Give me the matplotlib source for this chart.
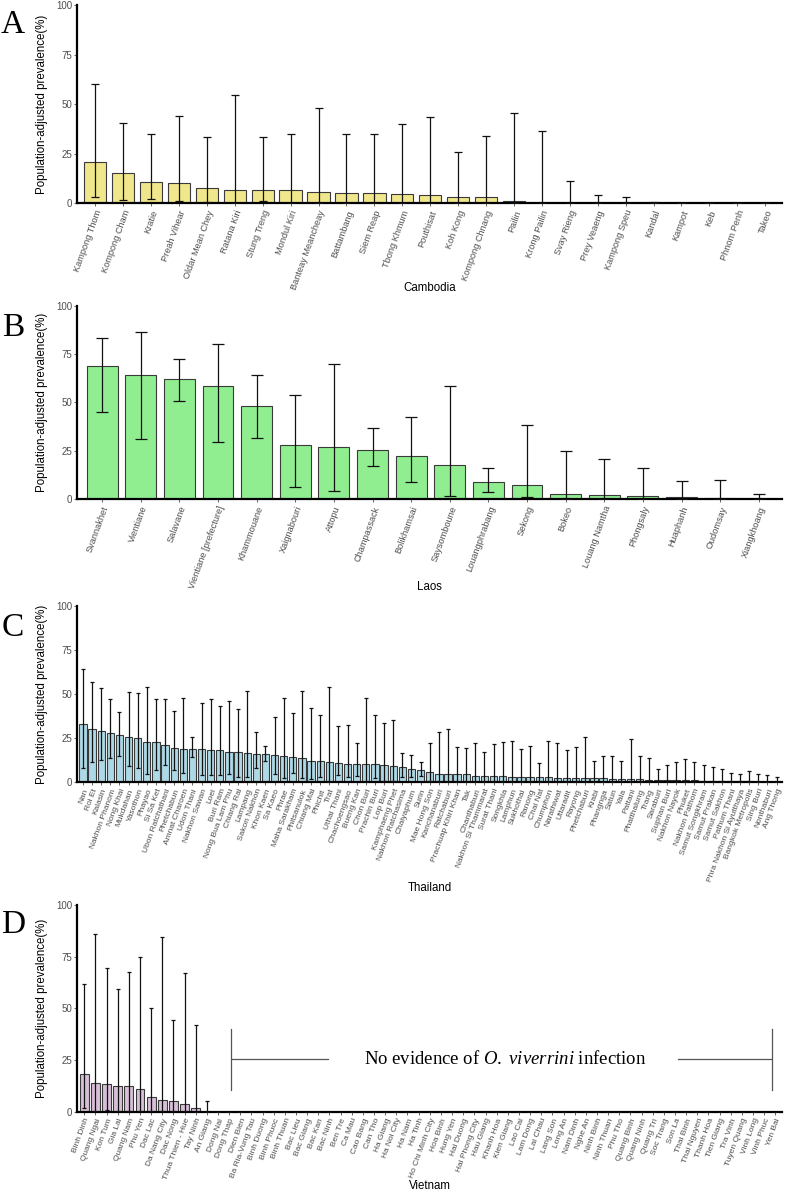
import numpy as np
import matplotlib
matplotlib.use("Agg")
import matplotlib.pyplot as plt

plt.rcParams['font.family'] = ['Liberation Sans', 'DejaVu Sans']
plt.rcParams['mathtext.fontset'] = 'custom'
plt.rcParams['mathtext.rm'] = 'Liberation Serif'
plt.rcParams['mathtext.it'] = 'Liberation Serif:italic'

#------------------------------------------------------------------------------------
# Data
cam_names = ["Kampong Thom", "Kompong Cham", "Kratie", "Preah Vihear", "Oldar Mean Chey",
             "Ratana Kiri", "Stung Treng", "Mondul Kiri", "Banteay Meancheay", "Battambang",
             "Siem Reap", "Tbong Khmum", "Pouthisat", "Koh Kong", "Kompong Chnang", "Pailin",
             "Krong Pailin", "Svay Rieng", "Prey Veaeng", "Kampong Speu", "Kandal", "Kampot",
             "Keb", "Phnom Penh", "Takeo"]
cam_val = [20.8, 15.1, 10.9, 10.1, 7.9, 6.7, 6.7, 6.5, 5.9, 5.0, 5.0, 4.5, 4.0, 3.2, 3.0, 1.0,
           0.3, 0.3, 0.0, 0.0, 0.4, 0.0, 0.1, 0.0, 0.0]
cam_low = [3.3, 1.8, 2.3, 1.0, 0.7, 0.3, 1.2, 0.0, 0.0, 0.0, 0.0, 0.0, 0.0, 0.0, 0.0, 0.0,
           0.0, 0.0, 0.0, 0.0, 0.0, 0.0, 0.0, 0.0, 0.0]
cam_high = [60.1, 40.6, 34.8, 43.9, 33.3, 54.6, 33.6, 34.9, 47.9, 34.8, 34.8, 39.8, 43.7, 26.0,
            34.0, 45.4, 36.6, 11.2, 4.4, 3.4, 0.6, 0.0, 0.1, 0.0, 0.0]

lao_names = ["Svannakhet", "Vientiane", "Salavane", "Vientiane [prefecture]", "Khammouane",
             "Xaignabouri", "Attopu", "Champassack", "Bolikhamsai", "Saysomboune",
             "Louangphrabang", "Sekong", "Bokeo", "Louang Namtha", "Phongsaly", "Huaphanh",
             "Oudomsay", "Xiangkhoang"]
lao_val = [68.7, 64.4, 62.0, 58.5, 48.4, 27.9, 27.0, 25.3, 22.4, 17.9, 8.8, 7.4, 2.6, 2.4, 1.5,
           1.2, 0.7, 0.3]
lao_low = [45.3, 31.0, 50.6, 29.4, 31.7, 6.4, 4.3, 17.4, 8.8, 1.5, 3.6, 1.2, 0.0, 0.0, 0.0,
           0.0, 0.0, 0.0]
lao_high = [83.5, 86.6, 72.5, 80.4, 64.4, 53.9, 69.9, 36.7, 42.5, 58.3, 16.2, 38.6, 25.1, 20.8,
            16.0, 9.6, 10.2, 2.6]

tha_names = ["Nan", "Roi Et", "Kalasin", "Nakhon Phanom", "Nong Khai", "Mukdahan", "Yasothon",
             "Phayao", "Si Sa Ket", "Ubon Ratchathani", "Phetchabun", "Amnat Charoen",
             "Udon Thani", "Nakhon Sawan", "Loei", "Buri Ram", "Nong Bua Lam Phu", "Chiang Rai",
             "Lampang", "Sakon Nakhon", "Khon Kaen", "Sa Kaeo", "Phrae", "Maha Sarakham",
             "Phitsanulok", "Chiang Mai", "Phichit", "Trat", "Uthai Thani", "Chachoengsao",
             "Bueng Kan", "Chon Buri", "Prachin Buri", "Lop Buri", "Kamphaeng Phet",
             "Nakhon Ratchasima", "Chaiyaphum", "Surin", "Mae Hong Son", "Kanchanaburi",
             "Ratchaburi", "Prachuap Khiri Khan", "Tak", "Chanthaburi", "Nakhon Si Thammarat",
             "Surat Thani", "Songkhla", "Lamphun", "Sukhothai", "Ranong", "Chai Nat",
             "Chumphon", "Narathiwat", "Uttaradit", "Rayong", "Phetchaburi", "Krabi",
             "Phangnga", "Satun", "Yala", "Pattani", "Phatthalung", "Trang", "Saraburi",
             "Suphan Buri", "Nakhon Nayok", "Phuket", "Nakhon Pathom", "Samut Songkhram",
             "Samut Prakan", "Samut Sakhon", "Pathum Thani", "Phra Nakhon Si Ayutthaya",
             "Bangkok Metropolis", "Sing Buri", "Nonthaburi", "Ang Thong"]
tha_val = [32.8, 30.4, 28.9, 27.9, 26.8, 25.5, 24.9, 22.6, 22.6, 21.3, 19.2, 19.1, 18.9, 18.7,
           18.1, 18.1, 17.0, 17.0, 16.4, 16.2, 15.8, 15.5, 15.1, 14.3, 13.6, 12.1, 12.1, 11.3,
           10.8, 10.4, 10.4, 10.4, 10.4, 9.6, 9.2, 8.9, 7.4, 7.2, 5.8, 4.9, 4.9, 4.9, 4.5, 3.6,
           3.4, 3.4, 3.4, 3.2, 3.0, 3.0, 2.9, 2.8, 2.6, 2.5, 2.3, 2.3, 2.3, 2.2, 1.9, 1.7, 1.7,
           1.7, 1.5, 1.3, 1.3, 1.1, 1.1, 1.1, 0.9, 0.9, 0.8, 0.6, 0.6, 0.5, 0.4, 0.4, 0.3]
tha_low = [7.9, 11.3, 12.8, 13.8, 14.7, 9.1, 8.3, 4.5, 7.2, 9.8, 7.0, 5.1, 14.2, 4.0, 4.0, 4.0,
           4.5, 3.2, 2.8, 7.9, 12.1, 4.7, 2.6, 5.5, 2.6, 1.7, 2.8, 0.4, 4.2, 2.8, 3.8, 0.4, 2.3,
           0.9, 0.9, 3.2, 3.2, 3.8, 0.8, 0.2, 0.2, 0.2, 0.2, 0.1, 0.1, 0.1, 0.1, 0.1, 0.1, 0.1,
           0.1, 0.1, 0.1, 0.1, 0.1, 0.1, 0.1, 0.1, 0.1, 0.1, 0.1, 0.1, 0.1, 0.0, 0.0, 0.0, 0.0,
           0.0, 0.0, 0.0, 0.0, 0.0, 0.0, 0.0, 0.0, 0.0, 0.0]
tha_high = [64.2, 57.0, 53.4, 47.0, 40.0, 50.9, 50.4, 54.0, 47.4, 47.4, 40.4, 47.7, 25.7, 44.7,
            47.0, 43.0, 46.2, 41.7, 51.9, 28.7, 20.6, 37.2, 47.9, 39.2, 51.9, 42.3, 37.9, 53.8,
            31.7, 32.5, 22.3, 47.5, 37.9, 33.4, 35.1, 16.8, 15.3, 11.3, 22.1, 28.5, 30.4, 19.8,
            19.2, 22.1, 17.0, 21.7, 22.6, 23.6, 19.1, 20.4, 10.7, 23.6, 22.1, 18.1, 20.0, 25.8,
            12.3, 14.9, 15.1, 11.9, 24.7, 14.7, 14.0, 7.5, 9.6, 11.3, 13.2, 11.3, 9.8, 8.9, 7.7,
            5.1, 4.5, 6.2, 4.7, 4.0, 3.0]

vie_names = ["Binh Dinh", "Quang Ngai", "Kon Tum", "Gia Lai", "Quang Nam", "Phu Yen", "Dac Lac",
             "Da Nang City", "Dac Nong", "Thua Thien - Hue", "Tay Ninh", "An Giang", "Dong Nai",
             "Dong Thap", "Dien Bien", "Ba Ria-Vung Tau", "Binh Duong", "Binh Phuoc",
             "Binh Thuan", "Bac Lieu", "Bac Giang", "Bac Kan", "Bac Ninh", "Ben Tre", "Ca Mau",
             "Cao Bang", "Can Tho", "Ha Giang", "Ha Noi City", "Ha Nam", "Ha Tinh",
             "Ho Chi Minh City", "Hoa Binh", "Hung Yen", "Hai Duong", "Hai Phong City",
             "Hau Giang", "Khanh Hoa", "Kien Giang", "Lao Cai", "Lam Dong", "Lai Chau",
             "Lang Son", "Long An", "Nam Dinh", "Nghe An", "Ninh Binh", "Ninh Thuan", "Phu Tho",
             "Quang Binh", "Quang Ninh", "Quang Tri", "Soc Trang", "Son La", "Thai Binh",
             "Thai Nguyen", "Thanh Hoa", "Tien Giang", "Tra Vinh", "Tuyen Quang", "Vinh Long",
             "Vinh Phuc", "Yen Bai"]
vie_val = [18.4, 14.0, 13.2, 12.6, 12.6, 10.8, 6.9, 5.5, 5.0, 3.9, 1.6, 0, 0, 0, 0, 0, 0, 0, 0,
           0, 0, 0, 0, 0, 0, 0, 0, 0, 0, 0, 0, 0, 0, 0, 0, 0, 0, 0, 0, 0, 0, 0, 0, 0, 0, 0, 0, 0,
           0, 0, 0, 0, 0, 0, 0, 0, 0, 0, 0, 0, 0, 0, 0]
vie_low = [1.9, 0.3, 0.6, 0.4, 0.4, 0.3, 0.2, 0.1, 0.1, 0.1, 0.0, 0, 0, 0, 0, 0, 0, 0, 0,
           0, 0, 0, 0, 0, 0, 0, 0, 0, 0, 0, 0, 0, 0, 0, 0, 0, 0, 0, 0, 0, 0, 0, 0, 0, 0, 0, 0, 0,
           0, 0, 0, 0, 0, 0, 0, 0, 0, 0, 0, 0, 0, 0, 0]
vie_high = [61.8, 85.8, 69.5, 59.4, 67.7, 75.0, 50.0, 84.7, 44.5, 67.0, 41.8, 5.0, 0, 0, 0, 0, 0,
            0, 0, 0, 0, 0, 0, 0, 0, 0, 0, 0, 0, 0, 0, 0, 0, 0, 0, 0, 0, 0, 0, 0, 0, 0, 0, 0, 0, 0,
            0, 0, 0, 0, 0, 0, 0, 0, 0, 0, 0, 0, 0, 0, 0, 0, 0]

note_text = "No evidence of $\\mathit{O.\\ viverrini}$ infection"

#------------------------------------------------------------------------------------
W, H = 786, 1196
fig = plt.figure(figsize=(W / 100, H / 100), dpi=100)

def ax_rect(top_px, bottom_px):
    return [77 / W, 1 - bottom_px / H, (782 - 77) / W, (bottom_px - top_px) / H]

def panel(rect, names, val, low, high, color, country, letter, letter_y, capsize, lab_size, xlab_y):
    ax = fig.add_axes(rect)
    x = np.arange(len(names))
    val = np.array(val, dtype=float)
    yerr = [val - np.array(low), np.array(high) - val]
    ax.bar(x, val, width=0.8, color=color, edgecolor='#3a3a3a', linewidth=0.8, zorder=2)
    ax.errorbar(x, val, yerr=yerr, fmt='none', ecolor='#111111', elinewidth=0.9,
                capsize=capsize, capthick=0.9, zorder=3)
    ax.set_xlim(-0.65, len(names) - 0.4)
    ax.set_ylim(0, 100)
    ax.set_yticks([0, 25, 50, 75, 100])
    ax.set_xticks(x)
    ax.set_xticklabels(names, rotation=70, ha='right', va='top', rotation_mode='anchor',
                       fontsize=lab_size, color='#4D4D4D')
    ax.tick_params(axis='y', labelsize=7, colors='#4D4D4D', length=2.5, width=0.6, pad=1)
    ax.tick_params(axis='x', length=2.5, width=0.6, pad=1.5, colors='#4D4D4D')
    for s in ('top', 'right'):
        ax.spines[s].set_visible(False)
    for s in ('left', 'bottom'):
        ax.spines[s].set_linewidth(1.6)
        ax.spines[s].set_color('black')
    ax.set_ylabel('Population-adjusted prevalence(%)', fontsize=8.3)
    ax.yaxis.set_label_coords(-0.041, 0.5)
    ax.set_xlabel(country, fontsize=8.3, va='center')
    ax.xaxis.set_label_coords(0.5, xlab_y)
    fig.text(13 / W, 1 - letter_y / H, letter, fontsize=24, family='Liberation Serif',
             ha='center', va='center')
    return ax

panel(ax_rect(5, 203.3), cam_names, cam_val, cam_low, cam_high, '#F0E68C', 'Cambodia', 'A',
      25, 3.0, 6.6, -(288 - 203.3) / 198.3)
panel(ax_rect(305.7, 499.3), lao_names, lao_val, lao_low, lao_high, '#90EE90', 'Laos', 'B',
      328, 4.2, 6.6, -(587 - 499.3) / 193.6)
panel(ax_rect(605.7, 782.3), tha_names, tha_val, tha_low, tha_high, '#ADD8E6', 'Thailand', 'C',
      628, 1.1, 6.0, -(888 - 782.3) / 176.6)
axd = panel(ax_rect(905, 1111.7), vie_names, vie_val, vie_low, vie_high, '#D8BFD8', 'Vietnam', 'D',
            925, 1.1, 6.0, -(1186 - 1111.7) / 206.7)

# bracket with note
lc = '#555555'
axd.plot([13.15, 13.15], [10.5, 40], color=lc, lw=0.9)
axd.plot([13.3, 21.9], [25.5, 25.5], color=lc, lw=0.9)
axd.plot([61.7, 61.7], [10.5, 40], color=lc, lw=0.9)
axd.plot([53.3, 61.6], [25.5, 25.5], color=lc, lw=0.9)
axd.text(37.8, 25.5, note_text, fontsize=13.5, family='Liberation Serif', ha='center', va='center')

fig.savefig('out.png', dpi=100)
